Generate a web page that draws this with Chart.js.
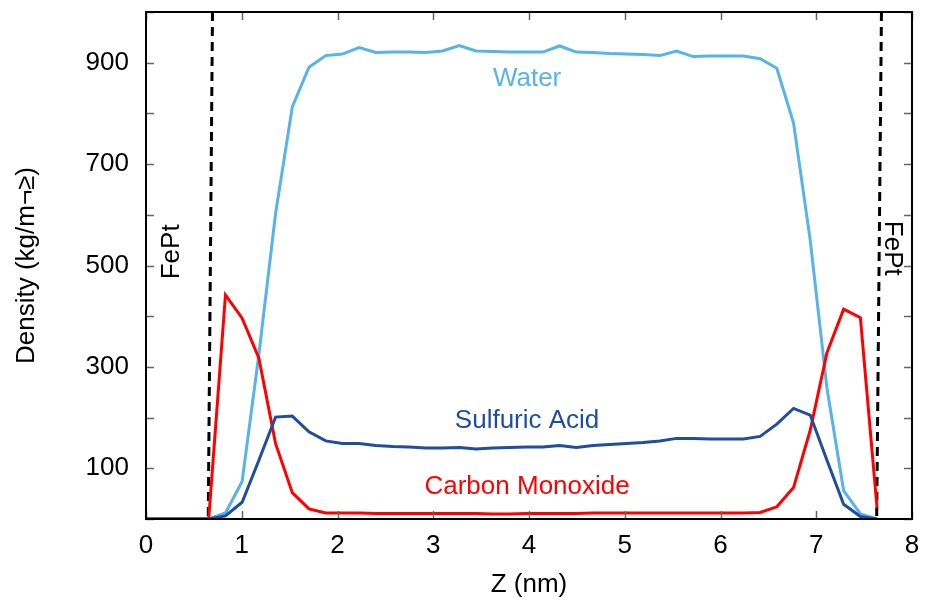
<!DOCTYPE html>
<html>
<head>
<meta charset="utf-8">
<script src="https://cdn.jsdelivr.net/npm/chart.js@4.4.1/dist/chart.umd.min.js"></script>
<style>
  html, body { margin: 0; padding: 0; background: #fff; }
  #wrap { width: 926px; height: 600px; }
</style>
</head>
<body>
<div id="wrap"><canvas id="c" width="926" height="600"></canvas></div>
<script>
// Z positions (nm) of the density bins
const zPos = [0, 0.655, 0.830, 1.004, 1.179, 1.353, 1.528, 1.702, 1.877, 2.051, 2.226,
  2.400, 2.575, 2.749, 2.924, 3.098, 3.273, 3.447, 3.622, 3.796, 3.971,
  4.145, 4.320, 4.494, 4.669, 4.843, 5.018, 5.192, 5.367, 5.541, 5.716,
  5.890, 6.065, 6.239, 6.414, 6.588, 6.763, 6.937, 7.112, 7.286, 7.461, 7.635];

const water = [0, 0, 12, 74, 325, 602, 813, 891, 914, 917, 930,
  920, 921, 921, 920, 923, 934, 923, 922, 921, 921,
  921, 933, 921, 920, 918, 917, 916, 914, 923, 912,
  913, 913, 913, 908, 889, 781, 550, 258, 56, 10, 0];

const sulfuric = [0, 0, 6, 33, 116, 201, 203, 172, 154, 149, 149,
  145, 143, 142, 140, 140, 141, 138, 140, 141, 142,
  142, 145, 141, 145, 147, 149, 151, 154, 159, 159,
  158, 158, 158, 163, 187, 218, 205, 116, 29, 5, 0];

const carbonMonoxide = [0, 0, 442, 396, 317, 149, 52, 20, 12, 12, 12,
  11, 11, 11, 11, 11, 11, 11, 10, 10, 11,
  11, 11, 11, 12, 12, 12, 12, 12, 12, 12,
  12, 12, 12, 13, 24, 62, 175, 328, 414, 397, 22];

// FePt surface markers (top and bottom ends of the dashed lines)
const leftWallX = [0.6945, 0.650];
const rightWallX = [7.681, 7.631];
const wallY = [1000, 0];

const xTicks = [0, 1, 2, 3, 4, 5, 6, 7, 8];
const yLabelled = [100, 300, 500, 700, 900];

const C_WATER = '#56b4e9';
const C_SULF = '#1f4e9e';
const C_CO = '#ff0000';

const FONT = '"Liberation Sans", Arial, Helvetica, sans-serif';
Chart.defaults.font.family = FONT;
Chart.defaults.font.size = 26;
Chart.defaults.color = '#000';

const pts = (ys) => zPos.map((z, i) => ({ x: z, y: ys[i] }));
const wall = (xs) => xs.map((x, i) => ({ x, y: wallY[i] }));

// text labels placed in data coordinates
const labels = [
  { text: 'Water', x: 3.98, y: 868, color: C_WATER, rot: 0 },
  { text: 'Sulfuric Acid', x: 3.98, y: 193, color: C_SULF, rot: 0 },
  { text: 'Carbon Monoxide', x: 3.98, y: 64, color: C_CO, rot: 0 },
  { text: 'FePt', x: 0.27, y: 527, color: '#000', rot: -Math.PI / 2 },
  { text: 'FePt', x: 7.79, y: 534, color: '#000', rot: Math.PI / 2 },
];

const framePlugin = {
  id: 'frame',
  afterDatasetsDraw(chart) {
    const { ctx, chartArea: a, scales: { x, y } } = chart;
    ctx.save();
    // labels
    ctx.font = '26px ' + FONT;
    ctx.textAlign = 'center';
    ctx.textBaseline = 'middle';
    labels.forEach(l => {
      ctx.save();
      ctx.translate(x.getPixelForValue(l.x), y.getPixelForValue(l.y));
      ctx.rotate(l.rot);
      ctx.fillStyle = l.color;
      ctx.fillText(l.text, 0, 0);
      ctx.restore();
    });
    // inward tick marks
    ctx.strokeStyle = '#666';
    ctx.lineWidth = 1.5;
    ctx.beginPath();
    y.ticks.forEach(t => {
      const py = Math.round(y.getPixelForValue(t.value)) + 0.5;
      ctx.moveTo(a.left, py); ctx.lineTo(a.left + 8, py);
      ctx.moveTo(a.right, py); ctx.lineTo(a.right - 8, py);
    });
    x.ticks.forEach(t => {
      const px = Math.round(x.getPixelForValue(t.value)) + 0.5;
      ctx.moveTo(px, a.bottom); ctx.lineTo(px, a.bottom - 8);
      ctx.moveTo(px, a.top); ctx.lineTo(px, a.top + 8);
    });
    ctx.stroke();
    // frame
    ctx.strokeStyle = '#000';
    ctx.lineWidth = 2;
    ctx.strokeRect(a.left, a.top, a.right - a.left, a.bottom - a.top);
    ctx.restore();
  }
};

const lineDs = (data, color) => ({
  data, borderColor: color, borderWidth: 3, pointRadius: 0, tension: 0, fill: false,
});

// drop the label-overflow padding so the plot box lands where the layout padding says
const noPad = s => { s.paddingTop = 0; s.paddingBottom = 0; s.paddingLeft = 0; s.paddingRight = 0; };

new Chart(document.getElementById('c'), {
  type: 'line',
  data: {
    datasets: [
      lineDs(pts(sulfuric), C_SULF),
      lineDs(pts(carbonMonoxide), C_CO),
      lineDs(pts(water), C_WATER),
      { ...lineDs(wall(leftWallX), '#000'), borderDash: [9, 6] },
      { ...lineDs(wall(rightWallX), '#000'), borderDash: [9, 6] },
    ],
  },
  options: {
    responsive: false,
    animation: false,
    layout: { padding: { left: 0, top: 12, right: 14, bottom: 0 } },
    plugins: { legend: { display: false }, tooltip: { enabled: false } },
    scales: {
      x: {
        type: 'linear', min: 0, max: 8,
        grid: { display: false, drawTicks: false },
        border: { display: false },
        afterBuildTicks: s => { s.ticks = xTicks.map(v => ({ value: v })); },
        ticks: { padding: 11, maxRotation: 0, callback: v => v },
        title: { display: true, text: 'Z (nm)', padding: { top: 0, bottom: 0 } },
        afterFit: s => { s.height = 81; noPad(s); },
      },
      y: {
        type: 'linear', min: 0, max: 1000,
        grid: { display: false, drawTicks: false },
        border: { display: false },
        ticks: { stepSize: 100, padding: 17, callback: v => yLabelled.includes(v) ? v : '' },
        title: { display: true, text: 'Density (kg/m\u00AC\u2265)', padding: { top: 11, bottom: 0 } },
        afterFit: s => { s.width = 146; noPad(s); },
      },
    },
  },
  plugins: [framePlugin],
});
</script>
</body>
</html>
